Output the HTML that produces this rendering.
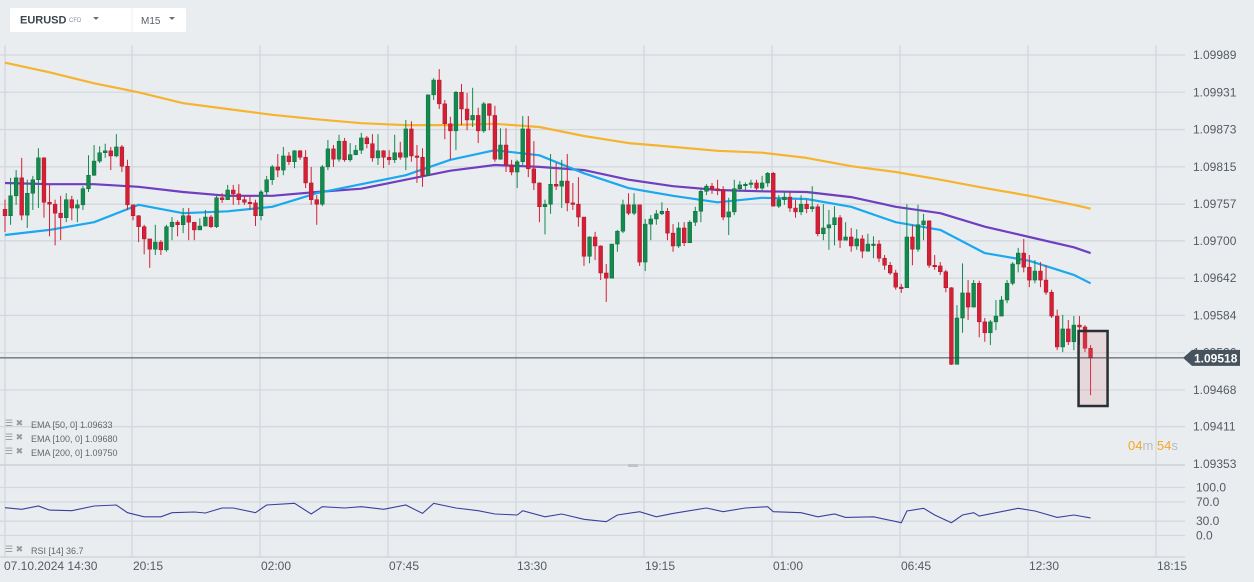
<!DOCTYPE html>
<html><head><meta charset="utf-8">
<style>
html,body{margin:0;padding:0;background:#eaedf0;}
body{width:1254px;height:582px;overflow:hidden;font-family:"Liberation Sans",sans-serif;}
svg{display:block}
</style></head>
<body>
<svg id="chart" width="1254" height="582" xmlns="http://www.w3.org/2000/svg">
<rect x="0" y="0" width="1254" height="582" fill="#eaedf0"/>
<g id="grid"></g>
<g id="ema"></g>
<g id="candles"></g>
<g id="rsi"></g>
<g id="axes"></g>
<g>
<rect x="10" y="8" width="176" height="24" rx="2" fill="#ffffff"/>
<text x="20" y="23.5" font-size="11" font-weight="bold" fill="#3c4650">EURUSD</text>
<text x="69" y="22" font-size="6" fill="#8a9096">CFD</text>
<path d="M93 17 l6 0 l-3 3 z" fill="#6a7078"/>
<line x1="132" y1="8" x2="132" y2="32" stroke="#eef0f2"/>
<text x="141" y="24" font-size="10" fill="#5a6068">M15</text>
<path d="M169 17 l6 0 l-3 3 z" fill="#6a7078"/>
</g>
<g font-size="9" fill="#666">
<text x="31" y="428">EMA  [50,  0]  1.09633</text>
<text x="31" y="442">EMA  [100,  0]  1.09680</text>
<text x="31" y="456">EMA  [200,  0]  1.09750</text>
<text x="5" y="426" font-size="9" fill="#999">☰ ✖</text>
<text x="5" y="440" font-size="9" fill="#999">☰ ✖</text>
<text x="5" y="454" font-size="9" fill="#999">☰ ✖</text>
<text x="5" y="552" font-size="9" fill="#999">☰ ✖</text>
<text x="31" y="554">RSI  [14]  36.7</text>
</g>
<g font-size="13">
<text x="1128" y="450" fill="#f5a623">04<tspan fill="#b8bcc0">m </tspan>54<tspan fill="#b8bcc0">s</tspan></text>
</g>
</svg>
<script>
const closes=[739,770,798,740,774,795,829,760,757,743,736,764,751,756,781,802,824,837,840,832,846,816,756,739,722,703,687,698,686,722,729,725,739,729,717,723,737,722,767,764,779,773,764,760,759,739,776,795,815,810,832,823,840,830,790,764,757,815,843,827,855,826,834,841,860,851,829,840,830,826,837,830,874,832,830,802,927,950,913,882,871,931,905,888,895,871,913,895,827,849,818,807,823,874,812,790,753,757,788,785,793,759,757,737,676,706,692,650,642,695,715,756,743,756,667,726,734,742,746,712,692,720,697,729,746,777,785,781,779,737,745,781,787,788,790,782,790,805,754,764,768,751,745,757,750,753,711,720,725,736,701,706,692,703,684,695,695,673,662,650,628,627,706,687,725,731,662,661,652,627,508,580,619,597,634,574,557,574,583,608,634,664,681,659,639,653,639,620,583,535,563,543,569,566,533,518];
const highs=[764,798,810,829,795,801,844,830,787,764,770,774,770,764,785,833,849,847,851,846,866,849,826,756,740,725,701,725,701,725,737,732,751,751,720,735,748,740,770,774,787,787,788,771,771,764,779,801,818,835,846,838,841,841,841,815,771,818,857,849,865,860,852,849,868,863,866,866,841,841,865,854,888,886,849,844,927,953,967,919,893,933,944,930,938,907,916,914,910,875,875,826,826,894,894,855,791,764,835,821,826,835,790,799,735,707,714,693,664,695,717,764,774,774,756,734,740,748,760,751,726,729,729,732,753,781,788,790,795,785,767,795,793,791,795,795,801,807,807,771,776,776,764,771,764,785,757,757,748,754,740,729,720,718,709,711,707,701,678,667,655,633,757,725,756,742,732,678,667,655,628,600,665,639,639,638,580,577,608,614,639,667,689,703,678,670,667,662,624,593,585,577,583,583,569,538];
const lows=[714,725,756,732,720,748,751,736,707,693,701,729,732,729,748,776,801,821,829,810,830,807,748,732,698,679,658,678,678,683,701,707,712,701,701,717,732,720,720,759,764,756,756,756,748,723,732,771,787,799,802,818,813,826,782,756,725,754,810,815,823,823,823,833,835,844,823,818,813,818,821,826,810,823,790,784,801,919,905,858,826,841,880,872,877,852,868,872,823,826,807,802,782,818,799,779,729,710,742,779,751,746,748,722,661,665,670,639,605,642,683,712,740,740,661,653,701,725,740,701,683,689,692,697,723,729,771,773,771,732,709,740,776,779,782,779,776,784,754,751,756,745,736,740,743,745,707,701,686,693,689,701,683,686,673,683,673,667,655,647,624,619,627,662,683,701,658,655,647,620,507,510,557,577,597,550,543,538,561,583,603,631,651,651,628,634,628,616,580,530,527,538,530,538,527,460];
const emaIdx=[0,8,16,24,32,40,48,56,64,72,80,88,96,104,112,120,128,136,144,152,160,168,176,184,192,195];
const ema50=[709,717,729,756,743,746,753,774,788,802,826,841,833,805,782,770,760,767,765,753,729,717,681,669,647,634];
const ema100=[790,788,788,784,776,770,770,776,781,795,809,818,815,810,795,785,779,777,776,768,753,743,722,706,690,681];
const ema200=[977,962,945,931,914,905,896,889,883,880,880,882,877,863,852,846,840,837,829,816,807,795,782,770,756,750];
const rsiIdx=[0,3,6,8,12,16,20,22,25,28,30,34,36,39,41,45,47,52,55,57,61,64,68,72,75,77,81,85,88,92,93,97,100,104,108,110,114,117,120,126,129,133,137,138,143,146,149,151,156,161,162,165,167,170,172,174,175,182,185,189,192,195];
const rsiVal=[58,54.5,61.5,53,51.7,61.5,63.5,47.5,39,39,47.5,49,46.9,57.3,57.3,47.5,63.5,67,44.8,60,57.3,60,54.5,63.5,46,67,57.3,51.7,44.8,42.7,51.7,39,44.8,33.7,28.8,42.7,49.6,39,46,57.3,49.6,57.3,60,49.6,47.5,39,44.8,37.8,39,26.7,51,56.6,42.7,26.7,42.7,47.5,40.5,56.6,51,37.8,42.7,36.7];
const priceTicks=["1.09989","1.09931","1.09873","1.09815","1.09757","1.09700","1.09642","1.09584","1.09526","1.09468","1.09411","1.09353"];
const timeLabels=["20:15","02:00","07:45","13:30","19:15","01:00","06:45","12:30","18:15"];
const rsiTicks=["100.0","70.0","30.0","0.0"];
const lastPrice="1.09518";

const NS="http://www.w3.org/2000/svg";
function P(v){return 1.09+v/1e5;}
function yP(p){return (1.100745-p)*64309;}
function xI(i){return 5+i*5.567;}
function yR(r){return 535.5-r*0.48;}
function mk(tag,attrs,parent){const e=document.createElementNS(NS,tag);for(const k in attrs)e.setAttribute(k,attrs[k]);parent.appendChild(e);return e;}

const grid=document.getElementById('grid');
const axes=document.getElementById('axes');
priceTicks.forEach((t,k)=>{
  const y=yP(parseFloat(t));
  if(k<11){const l=mk('line',{x1:0,x2:1185,y1:y,y2:y,stroke:'#d3d8dd','stroke-width':1.3},grid);
  
  }
  const tx=mk('text',{x:1193,y:y+4,'font-size':12,fill:'#555b62'},axes);tx.textContent=t;
  
  
});
for(let k=0;k<9;k++){
  const x=132+k*128;
  const l=mk('line',{x1:x,x2:x,y1:45,y2:557,stroke:'#d3d8dd','stroke-width':1.3},grid);
  
  
  const tx=mk('text',{x:x+16,y:570,'font-size':12,fill:'#555b62','text-anchor':'middle'},axes);tx.textContent=timeLabels[k];
  
  
}
mk('line',{x1:5,x2:5,y1:45,y2:557,stroke:'#d3d8dd','stroke-width':1.3},grid);
const t0=mk('text',{x:4,y:570,'font-size':12,fill:'#555b62'},axes);t0.textContent="07.10.2024  14:30";


mk('line',{x1:0,x2:1185,y1:465,y2:465,stroke:'#cdd2d7','stroke-width':1.5},grid);
mk('line',{x1:0,x2:1185,y1:557,y2:557,stroke:'#cdd2d7','stroke-width':1.3},grid);
mk('rect',{x:628,y:464,width:10,height:3,fill:'#c0c4c8'},grid);
const rsiLevels=[100,70,30,0];
rsiLevels.forEach((r,k)=>{
  const y=yR(r);
  mk('line',{x1:0,x2:1185,y1:y,y2:y,stroke:'#d3d8dd','stroke-width':1.3},grid);
  const tx=mk('text',{x:1196,y:y+4,'font-size':12,fill:'#555b62'},axes);tx.textContent=rsiTicks[k];
  
  
});

const emaG=document.getElementById('ema');
function line(arr,color,name){
  const pts=arr.map((v,k)=>xI(emaIdx[k]).toFixed(1)+','+yP(P(v)).toFixed(1)).join(' ');
  const pl=mk('polyline',{points:pts,fill:'none',stroke:color,'stroke-width':2.2,'stroke-linejoin':'round'},emaG);
  
  
}
line(ema200,'#f5b32e','ema-200-line');
line(ema100,'#6f3fbf','ema-100-line');
line(ema50,'#1aa8f0','ema-50-line');

const cg=document.getElementById('candles');
closes.forEach((c,i)=>{
  const o=i===0?closes[0]+10:closes[i-1];
  const up=c>=o;
  const col=up?'#138a4e':'#d61f35';
  const x=xI(i);
  const g=mk('g',{},cg);
  
  
  mk('line',{x1:x,x2:x,y1:yP(P(highs[i])),y2:yP(P(lows[i])),stroke:col,'stroke-width':1},g);
  const yt=yP(P(Math.max(o,c))),yb=yP(P(Math.min(o,c)));
  mk('rect',{x:x-1.9,y:yt,width:3.8,height:Math.max(1.5,yb-yt),fill:col,stroke:up?'#0d6b3b':'#a8162a','stroke-width':0.5},g);
});

const lx=xI(closes.length-1);
const hb=mk('rect',{x:lx-12,y:331,width:29,height:75,fill:'rgba(214,120,120,0.18)',stroke:'#2a2f33','stroke-width':2.5},cg);


const py=yP(parseFloat(lastPrice));
mk('line',{x1:0,x2:1185,y1:py,y2:py,stroke:'#3d464e','stroke-width':1},axes);
const tag=mk('path',{d:`M1183 ${py} L1192 ${py-8} L1240 ${py-8} L1240 ${py+8} L1192 ${py+8} Z`,fill:'#46535e'},axes);


const tt=mk('text',{x:1194,y:py+4.5,'font-size':12,'font-weight':'bold',fill:'#ffffff'},axes);tt.textContent=lastPrice;



const rg=document.getElementById('rsi');
const rpts=rsiVal.map((v,k)=>xI(rsiIdx[k]).toFixed(1)+','+yR(v).toFixed(1)).join(' ');
const rl=mk('polyline',{points:rpts,fill:'none',stroke:'#3a3f9e','stroke-width':1.1},rg);


</script>
</body></html>
